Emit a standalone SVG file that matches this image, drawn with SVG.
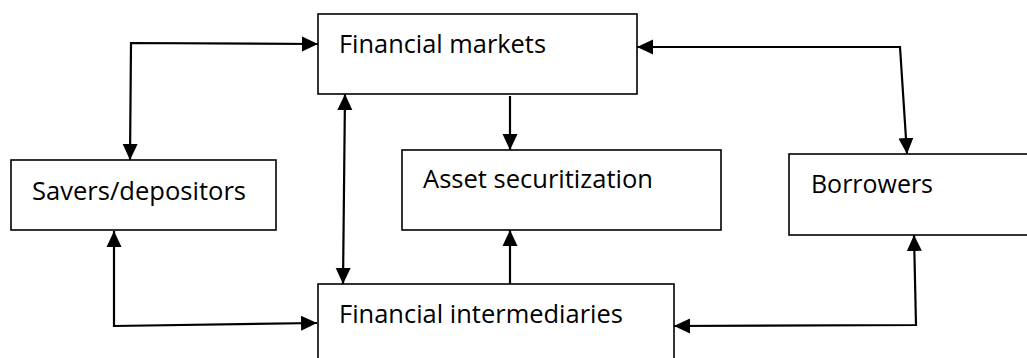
<svg xmlns="http://www.w3.org/2000/svg" width="1027" height="358" viewBox="0 0 1027 358">
<style>
.box{fill:#fff;stroke:#000;stroke-width:1.6}
.lbl{font-family:"Open Sans","Noto Sans","Liberation Sans",sans-serif;font-size:25px;fill:#000}
.con{fill:none;stroke:#000;stroke-width:2.2;stroke-linejoin:miter}
</style>
<defs>
<marker id="ah" markerUnits="userSpaceOnUse" markerWidth="18" markerHeight="18" viewBox="0 0 18 18" refX="16" refY="9" orient="auto-start-reverse">
<path d="M0,1.5 L16,9 L0,16.5 Z" fill="#000"/>
</marker>
</defs>
<rect width="1027" height="358" fill="#fff"/>
<g id="financial-markets">
<rect class="box" x="318" y="14" width="319" height="80"/>
<text class="lbl" x="339" y="53" textLength="207" lengthAdjust="spacingAndGlyphs">Financial markets</text>
</g>
<g id="savers">
<rect class="box" x="11" y="160" width="265" height="70"/>
<text class="lbl" x="32" y="200" textLength="214" lengthAdjust="spacingAndGlyphs">Savers/depositors</text>
</g>
<g id="asset-securitization">
<rect class="box" x="402" y="150" width="319" height="80"/>
<text class="lbl" x="423" y="188" textLength="230" lengthAdjust="spacingAndGlyphs">Asset securitization</text>
</g>
<g id="borrowers">
<rect class="box" x="789" y="154" width="260" height="81"/>
<text class="lbl" x="811" y="193" textLength="122" lengthAdjust="spacingAndGlyphs">Borrowers</text>
</g>
<g id="financial-intermediaries">
<rect class="box" x="318" y="284" width="356" height="90"/>
<text class="lbl" x="339" y="323" textLength="284" lengthAdjust="spacingAndGlyphs">Financial intermediaries</text>
</g>
<g id="connectors">
<path class="con" d="M130,160 L131,43 L318,44" marker-start="url(#ah)" marker-end="url(#ah)"/>
<path class="con" d="M114,231 L114,326 L317,323" marker-start="url(#ah)" marker-end="url(#ah)"/>
<path class="con" d="M345,94 L343,284" marker-start="url(#ah)" marker-end="url(#ah)"/>
<path class="con" d="M510,96 L510,150" marker-end="url(#ah)"/>
<path class="con" d="M510,284 L510,230" marker-end="url(#ah)"/>
<path class="con" d="M637,47 L900,47 L907,154" marker-start="url(#ah)" marker-end="url(#ah)"/>
<path class="con" d="M674,326 L916,325 L914,235" marker-start="url(#ah)" marker-end="url(#ah)"/>
</g>
</svg>
